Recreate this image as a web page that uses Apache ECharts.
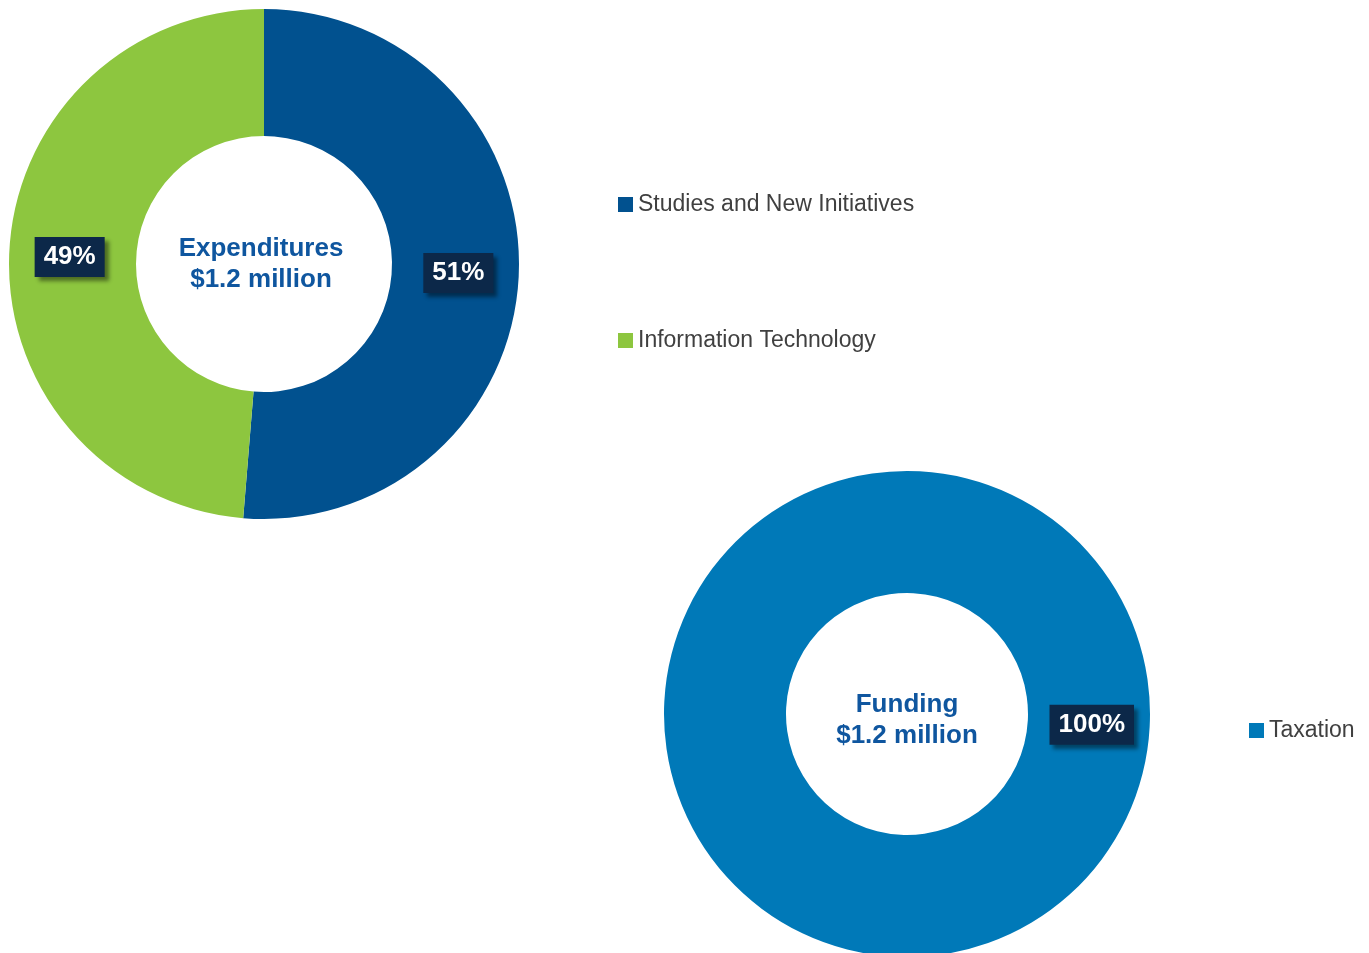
<!DOCTYPE html>
<html>
<head>
<meta charset="utf-8">
<script src="https://cdn.jsdelivr.net/npm/echarts@6/dist/echarts.min.js"></script>
<style>html,body{margin:0;padding:0;background:#fff;}#c{width:1369px;height:953px;}</style>
</head>
<body>
<div id="c"></div>
<script>
const expenditureCategories = ['Studies and New Initiatives', 'Information Technology'];
const expenditureValues = [51.3, 48.7];
const fundingCategories = ['Taxation'];
const fundingValues = [100];
const centerTexts = ['Expenditures\n$1.2 million', 'Funding\n$1.2 million'];

const colors = {
  'Studies and New Initiatives': '#01518F',
  'Information Technology': '#8DC63F',
  'Taxation': '#0079B8'
};

const labelStyle = {
  show: true,
  position: 'inside',
  formatter: p => Math.round(p.value) + '%',
  color: '#ffffff',
  fontFamily: "'Liberation Sans', Arial, sans-serif",
  fontWeight: 'bold',
  fontSize: 26,
  lineHeight: 25,
  backgroundColor: '#0C2849',
  padding: [8, 9, 7, 9],
  offset: [0, 1],
  shadowColor: 'rgba(0,0,0,0.45)',
  shadowBlur: 4,
  shadowOffsetX: 4,
  shadowOffsetY: 4
};

const legendText = {
  color: '#404040',
  fontFamily: "'Liberation Sans', Arial, sans-serif",
  fontSize: 23
};

const titleText = {color: '#0F569F', fontFamily: "'Liberation Sans', Arial, sans-serif", fontWeight: 'bold', fontSize: 26, lineHeight: 31};

const chart = echarts.init(document.getElementById('c'), null, {renderer: 'canvas'});
chart.setOption({
  animation: false,
  title: [
    {text: centerTexts[0], left: 261, top: 233, padding: 0, textAlign: 'center', textStyle: titleText},
    {text: centerTexts[1], left: 907, top: 689, padding: 0, textAlign: 'center', textStyle: titleText}
  ],
  legend: [
    {
      data: expenditureCategories, orient: 'vertical', left: 618, top: 193, padding: 0,
      itemWidth: 15, itemHeight: 15, itemGap: 113, icon: 'rect', selectedMode: false,
      textStyle: legendText
    },
    {
      data: fundingCategories, orient: 'vertical', left: 1249, top: 719, padding: 0,
      itemWidth: 15, itemHeight: 15, icon: 'rect', selectedMode: false,
      textStyle: legendText
    }
  ],
  series: [
    {
      type: 'pie',
      center: [264, 264],
      radius: [128, 255],
      startAngle: 90,
      clockwise: true,
      silent: true,
      emphasis: {disabled: true},
      label: labelStyle,
      labelLine: {show: false},
      data: expenditureCategories.map((n, i) => ({name: n, value: expenditureValues[i], itemStyle: {color: colors[n]}}))
    },
    {
      type: 'pie',
      center: [907, 714],
      radius: [121, 243],
      startAngle: 177,
      clockwise: true,
      silent: true,
      emphasis: {disabled: true},
      label: labelStyle,
      labelLine: {show: false},
      data: fundingCategories.map((n, i) => ({name: n, value: fundingValues[i], itemStyle: {color: colors[n]}}))
    }
  ]
});
</script>
</body>
</html>
